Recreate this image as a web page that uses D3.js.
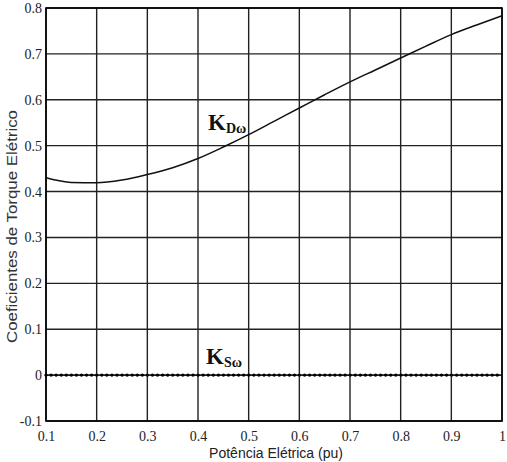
<!DOCTYPE html>
<html><head><meta charset="utf-8">
<script src="https://cdn.jsdelivr.net/npm/d3@7"></script>
<style>body{margin:0;background:#fff}</style>
</head><body>
<svg id="c" width="507" height="462"></svg>
<script>
const xTicks = [0.1,0.2,0.3,0.4,0.5,0.6,0.7,0.8,0.9,1];
const yTicks = [-0.1,0,0.1,0.2,0.3,0.4,0.5,0.6,0.7,0.8];
const xTickLabels = ["0.1","0.2","0.3","0.4","0.5","0.6","0.7","0.8","0.9","1"];
const yTickLabels = ["-0.1","0","0.1","0.2","0.3","0.4","0.5","0.6","0.7","0.8"];
const kdX = [0.1,0.15,0.2,0.25,0.3,0.35,0.4,0.45,0.5,0.55,0.6,0.65,0.7,0.75,0.8,0.85,0.9,0.95,1.0];
const kdY = [0.43,0.42,0.419,0.425,0.437,0.452,0.472,0.497,0.524,0.553,0.582,0.611,0.639,0.665,0.691,0.717,0.742,0.763,0.783];
const ksX = [0.1,1.0];
const ksY = [0,0];
const xTitle = "Potência Elétrica (pu)";
const yTitle = "Coeficientes de Torque Elétrico";

const SERIF = "'Liberation Serif', 'Times New Roman', serif";
const svg = d3.select("#c");
const L=46,R=502,T=8,B=421;
const x = d3.scaleLinear().domain([0.1,1]).range([L,R]);
const y = d3.scaleLinear().domain([-0.1,0.8]).range([B,T]);

const g = svg.append("g");
g.selectAll("line.vx").data(xTicks).join("line")
 .attr("x1",d=>x(d)).attr("x2",d=>x(d)).attr("y1",T).attr("y2",B)
 .attr("stroke","#222").attr("stroke-width",1.4);
g.selectAll("line.hy").data(yTicks).join("line").attr("class","hy")
 .attr("y1",d=>y(d)).attr("y2",d=>y(d)).attr("x1",L).attr("x2",R)
 .attr("stroke","#222").attr("stroke-width",1.4);
g.append("rect").attr("x",L).attr("y",T).attr("width",R-L).attr("height",B-T)
 .attr("fill","none").attr("stroke","#000").attr("stroke-width",1.6);

const xa = d3.axisBottom(x).tickValues(xTicks).tickSize(0).tickFormat((d,i)=>xTickLabels[i]);
const xg = svg.append("g").attr("transform",`translate(0,${B})`).call(xa);
xg.select(".domain").remove();
xg.selectAll("text").style("font-family",SERIF).style("font-size","14px")
  .attr("fill","#222").attr("dy",null).attr("y",20);
const ya = d3.axisLeft(y).tickValues(yTicks).tickSize(0).tickFormat((d,i)=>yTickLabels[i]);
const yg = svg.append("g").attr("transform",`translate(${L},0)`).call(ya);
yg.select(".domain").remove();
yg.selectAll("text").style("font-family",SERIF).style("font-size","14px")
  .attr("fill","#222").attr("x",-4);

const line = d3.line().x(d=>x(d[0])).y(d=>y(d[1])).curve(d3.curveMonotoneX);
svg.append("path").datum(kdX.map((v,i)=>[v,kdY[i]])).attr("d",line)
 .attr("fill","none").attr("stroke","#111").attr("stroke-width",1.5);
const ksd = ksX.map((v,i)=>[v,ksY[i]]);
const sl = d3.line().x(d=>x(d[0])).y(d=>y(d[1]));
svg.append("path").datum(ksd).attr("d",sl)
 .attr("fill","none").attr("stroke","#111").attr("stroke-width",1.2);
svg.append("path").datum(ksd).attr("d",sl)
 .attr("fill","none").attr("stroke","#000").attr("stroke-width",3.4)
 .attr("stroke-linecap","round").attr("stroke-dasharray","0 5.07");

function klabel(px,py,sub){
  const t = svg.append("text").attr("x",px).attr("y",py)
   .style("font-family",SERIF).attr("font-weight","bold").attr("fill","#111");
  t.append("tspan").attr("font-size",23).text("K");
  t.append("tspan").attr("font-size",14).attr("dy",3).text(sub);
}
klabel(208,130,"Dω");
klabel(206,364,"Sω");

svg.append("text").attr("x",276).attr("y",458).attr("text-anchor","middle")
 .attr("font-family","'Liberation Sans',Arial,sans-serif").attr("font-size",14).attr("fill","#222").text(xTitle);
svg.append("text").attr("transform","translate(17,226.5) rotate(-90)").attr("text-anchor","middle")
 .attr("font-family","'Liberation Sans',Arial,sans-serif").attr("font-size",14).attr("fill","#333")
 .attr("textLength",233).attr("lengthAdjust","spacingAndGlyphs").text(yTitle);
</script>
</body></html>
